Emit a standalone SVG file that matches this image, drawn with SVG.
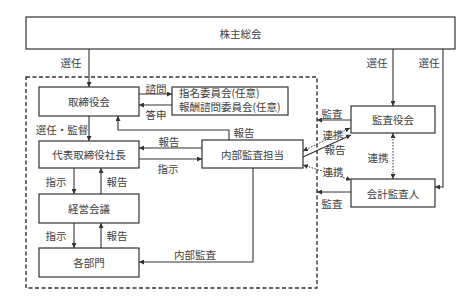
<svg xmlns="http://www.w3.org/2000/svg" width="472" height="304" viewBox="0 0 472 304">
<defs>
<marker id="ah" markerWidth="5" markerHeight="5" refX="5" refY="2.5" orient="auto" markerUnits="userSpaceOnUse">
<path d="M0,0 L5,2.5 L0,5 Z" fill="#333"/>
</marker>
<marker id="as" markerWidth="5" markerHeight="5" refX="0" refY="2.5" orient="auto" markerUnits="userSpaceOnUse">
<path d="M5,0 L0,2.5 L5,5 Z" fill="#333"/>
</marker>
</defs>
<style>
.box{fill:#fff;stroke:#333;stroke-width:1.2}
.t{font-family:"Noto Sans CJK JP","Noto Sans CJK SC",sans-serif;font-size:10.5px;fill:#404040}
.c{text-anchor:middle;dominant-baseline:central}
.ln{fill:none;stroke:#333;stroke-width:1.1}
.dot{fill:none;stroke:#333;stroke-width:1;stroke-dasharray:1.5,1.5}
.dash{fill:none;stroke:#333;stroke-width:1.4;stroke-dasharray:4,2.5}
</style>
<rect width="472" height="304" fill="#fff"/>
<rect class="dash" x="26" y="77" width="291" height="211"/>
<g id="shareholders"><rect class="box" x="26" y="17" width="429" height="32"/><text class="t c" x="240.5" y="33">株主総会</text></g>
<g id="board"><rect class="box" x="39" y="87" width="100" height="29"/><text class="t c" x="89" y="101.5">取締役会</text></g>
<g id="committee"><rect class="box" x="172" y="87" width="116" height="28"/><text class="t" x="179" y="97">指名委員会(任意)</text><text class="t" x="179" y="111">報酬諮問委員会(任意)</text></g>
<g id="president"><rect class="box" x="39" y="141" width="100" height="27"/><text class="t c" x="89" y="154.5">代表取締役社長</text></g>
<g id="management"><rect class="box" x="39" y="194" width="100" height="29"/><text class="t c" x="89" y="208.5">経営会議</text></g>
<g id="departments"><rect class="box" x="39" y="248" width="100" height="29"/><text class="t c" x="89" y="262.5">各部門</text></g>
<g id="internal-audit"><rect class="box" x="202" y="140" width="101" height="28"/><text class="t c" x="252.5" y="154">内部監査担当</text></g>
<g id="auditors"><rect class="box" x="351" y="106" width="84" height="27"/><text class="t c" x="393" y="119.5">監査役会</text></g>
<g id="accountant"><rect class="box" x="351" y="179" width="84" height="28"/><text class="t c" x="393" y="193">会計監査人</text></g>
<g id="connectors">
<path class="ln" d="M89,49 V87" marker-end="url(#ah)"/>
<path class="ln" d="M393,49 V106" marker-end="url(#ah)"/>
<path class="ln" d="M443,49 V187 H435" marker-end="url(#ah)"/>
<path class="ln" d="M139,94 H172" marker-end="url(#ah)"/>
<path class="ln" d="M172,105 H139" marker-end="url(#ah)"/>
<path class="ln" d="M89,116 V141" marker-end="url(#ah)"/>
<path class="ln" d="M229,140 V130 H118 V116" marker-end="url(#ah)"/>
<path class="ln" d="M202,148 H139" marker-end="url(#ah)"/>
<path class="ln" d="M139,159 H202" marker-end="url(#ah)"/>
<path class="ln" d="M74,168 V194" marker-end="url(#ah)"/>
<path class="ln" d="M101,194 V168" marker-end="url(#ah)"/>
<path class="ln" d="M74,223 V248" marker-end="url(#ah)"/>
<path class="ln" d="M101,248 V223" marker-end="url(#ah)"/>
<path class="ln" d="M253,168 V262 H139" marker-end="url(#ah)"/>
<path class="ln" d="M351,120 H317" marker-end="url(#ah)"/>
<path class="ln" d="M351,192 H317" marker-end="url(#ah)"/>
<path class="ln" d="M303,157 L351,135" marker-end="url(#ah)"/>
<path class="dot" d="M303,151 L350,128" marker-start="url(#as)" marker-end="url(#ah)"/>
<path class="dot" d="M303,165 L351,180" marker-start="url(#as)" marker-end="url(#ah)"/>
<path class="dot" d="M393,133 V179" marker-start="url(#as)" marker-end="url(#ah)"/>
</g>
<g id="labels">
<text class="t c" x="71" y="62">選任</text>
<text class="t c" x="377" y="62">選任</text>
<text class="t c" x="429" y="62">選任</text>
<text class="t c" x="156" y="88">諮問</text>
<text class="t c" x="156" y="114">答申</text>
<text class="t c" x="62" y="129">選任・監督</text>
<text class="t c" x="244" y="132">報告</text>
<text class="t c" x="169" y="141">報告</text>
<text class="t c" x="168" y="168">指示</text>
<text class="t c" x="56" y="181">指示</text>
<text class="t c" x="117" y="181">報告</text>
<text class="t c" x="56" y="235">指示</text>
<text class="t c" x="117" y="235">報告</text>
<text class="t c" x="195" y="254">内部監査</text>
<text class="t c" x="332" y="113">監査</text>
<text class="t c" x="333" y="134.5">連携</text>
<text class="t c" x="335" y="149">報告</text>
<text class="t c" x="333" y="171">連携</text>
<text class="t c" x="332" y="203">監査</text>
<text class="t c" x="378" y="157">連携</text>
</g>
</svg>
